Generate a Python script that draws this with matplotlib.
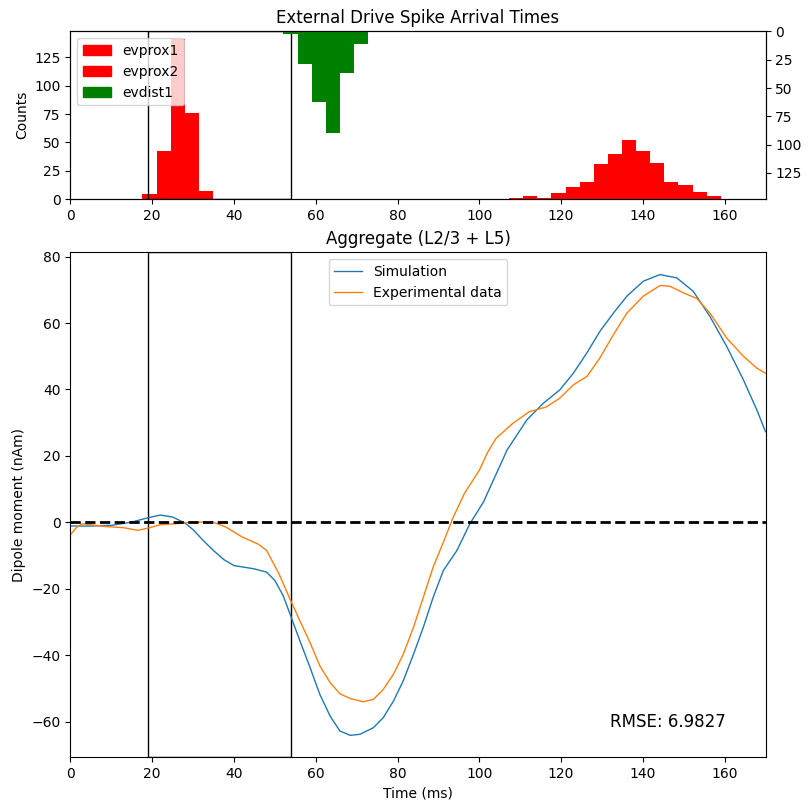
import numpy as np
import matplotlib.pyplot as plt
from matplotlib.patches import Patch

# histogram bins (common edges for all drives)
bin_start = 17.6
bin_width = 3.45
edges = bin_start + bin_width * np.arange(43)

# counts per bin, index into edges
evprox1_bins = [0, 1, 2, 3, 4]
evprox1_counts = [4, 42, 141, 76, 7]
evprox2_bins = [26, 27, 28, 29, 30, 31, 32, 33, 34, 35, 36, 37, 38, 39, 40]
evprox2_counts = [1, 3, 1, 5, 11, 15, 31, 40, 52, 42, 32, 15, 12, 6, 3]
evdist1_bins = [10, 11, 12, 13, 14, 15]
evdist1_counts = [2, 29, 62, 90, 37, 11]

# dipole time courses
sim_t = [0, 5, 10, 15, 19, 22, 25, 28, 30, 32.5, 35, 37.5, 40, 45, 48, 50,
         52, 53.7, 56.1, 58.6, 61, 63.5, 65.9, 68.4, 70.8, 74.1, 76.5, 79,
         81.4, 83.9, 86.3, 88.7, 91.2, 94.5, 97.7, 101, 102.7, 106.8, 111.6,
         115.7, 119.7, 123, 126.3, 129.5, 132.8, 136.1, 140.1, 144.2, 148.3,
         152.3, 156.4, 160.5, 164.6, 167.9, 170]
sim_v = [-1.1, -1.1, -0.9, 0.1, 1.4, 2.2, 1.6, -0.2, -2.2, -5.5, -8.5, -11.2,
         -13, -14, -15, -17.5, -22, -27.6, -35.6, -43.7, -51.8, -58.3, -62.8,
         -64.1, -63.8, -61.8, -58.8, -53.8, -47.7, -39.7, -31.6, -22.6, -14.5,
         -8.5, -0.4, 6.1, 10.7, 21.8, 30.8, 35.9, 39.9, 44.9, 51, 57.5, 63,
         68.1, 72.6, 74.6, 73.6, 69.6, 62, 53, 42.9, 33.8, 27.3]
exp_t = [0, 1.5, 3, 8, 13, 16.5, 19, 22, 27, 30, 35, 38, 42, 46, 48, 51,
         53.7, 56.1, 58.6, 61, 63.5, 65.9, 68.4, 71.6, 74.1, 76.5, 79, 81.4,
         83.9, 86.3, 88.7, 91.2, 93.6, 96.4, 100, 102, 104.1, 108.2, 112.2,
         116.3, 119.7, 123, 126.3, 129.5, 132.8, 136.1, 140.1, 144.2, 146.6,
         149.9, 153.2, 156.4, 160.5, 164.6, 167.9, 170]
exp_v = [-3.7, -1.5, -0.4, -1.2, -1.6, -2.4, -1.7, -0.7, -0.3, 0.1, 0, -1.4,
         -4.4, -6.6, -8.5, -15.5, -23.1, -29.6, -36.2, -43.2, -48.2, -51.6,
         -53, -54, -53.3, -50.3, -45.7, -39.7, -31.6, -22.6, -13.5, -6, 1.5,
         8.8, 15.7, 21, 25.3, 29.8, 33.3, 34.7, 37.4, 41.4, 43.9, 49.5, 56.5,
         63, 68.1, 71.3, 71.1, 69.1, 67.4, 63, 55.5, 50, 46.4, 44.9]
rmse = 6.9827
win_start, win_end = 19, 54

fig = plt.figure(figsize=(8.11, 8.11), dpi=100)
ax_hist = fig.add_axes([0.0869, 0.7546, 0.8570, 0.2067])
ax_dip = fig.add_axes([0.0869, 0.0663, 0.8570, 0.6226])


def draw_bins(ax, idx, counts, color):
    left = edges[idx]
    ax.bar(left, counts, width=bin_width, align='edge', color=color)


draw_bins(ax_hist, evprox1_bins, evprox1_counts, 'red')
draw_bins(ax_hist, evprox2_bins, evprox2_counts, 'red')
ax_hist.set_ylim(0, 148)
ax_hist.set_xlim(0, 170)
ax_hist.set_ylabel('Counts')
ax_hist.set_title('External Drive Spike Arrival Times', fontsize=12)
ax_hist.axvspan(win_start, win_end, facecolor='none', edgecolor='k', lw=1)

ax_inv = ax_hist.twinx()
draw_bins(ax_inv, evdist1_bins, evdist1_counts, 'green')
ax_inv.set_ylim(148, 0)
ax_inv.set_xlim(0, 170)

handles = [Patch(color='red', label='evprox1'),
           Patch(color='red', label='evprox2'),
           Patch(color='green', label='evdist1')]
ax_inv.legend(handles=handles, loc='upper left')

ax_dip.plot(sim_t, sim_v, color='C0', lw=1, label='Simulation')
ax_dip.plot(exp_t, exp_v, color='C1', lw=1, label='Experimental data')
ax_dip.axhline(0, color='k', ls='--', lw=2)
ax_dip.axvspan(win_start, win_end, facecolor='none', edgecolor='k', lw=1)
ax_dip.set_xlim(0, 170)
ax_dip.set_ylim(-70.7, 81.3)
ax_dip.set_xlabel('Time (ms)')
ax_dip.set_ylabel('Dipole moment (nAm)')
ax_dip.set_title('Aggregate (L2/3 + L5)', fontsize=12)
ax_dip.legend(loc='upper center')
ax_dip.text(132, -60, f'RMSE: {rmse:.4f}', fontsize=12, va='center')

fig.savefig('out.png', dpi=100)
